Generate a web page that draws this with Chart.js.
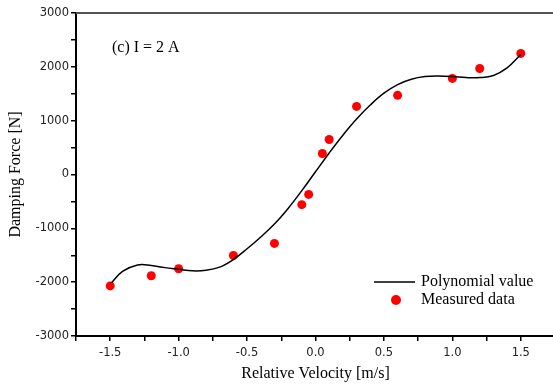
<!DOCTYPE html>
<html>
<head>
<meta charset="utf-8">
<script src="https://cdn.jsdelivr.net/npm/chart.js@4.4.1/dist/chart.umd.min.js"></script>
<style>
  html, body { margin: 0; padding: 0; background: #fff; overflow: hidden; }
  #wrap { width: 560px; height: 387px; }
</style>
</head>
<body>
<div id="wrap"><canvas id="c"></canvas></div>
<script>
// polynomial fit
const curveX = [-1.49, -1.41, -1.3, -1.2, -1.1, -1.0, -0.9, -0.8, -0.7, -0.6, -0.5, -0.4, -0.3, -0.2, -0.1, 0.0,
                0.1, 0.2, 0.3, 0.4, 0.5, 0.6, 0.7, 0.8, 0.9, 1.0, 1.1, 1.2, 1.3, 1.4, 1.5];
const curveY = [-2010, -1800, -1680, -1690, -1730, -1760, -1790, -1780, -1720, -1580, -1380, -1160, -920, -630, -300, 50,
                400, 730, 1030, 1290, 1510, 1670, 1770, 1820, 1830, 1820, 1800, 1800, 1840, 1980, 2230];

// measured points
const measuredX = [-1.5, -1.2, -1.0, -0.6, -0.3, -0.1, -0.05, 0.05, 0.1, 0.3, 0.6, 1.0, 1.2, 1.5];
const measuredY = [-2070, -1880, -1750, -1505, -1280, -560, -370, 390, 650, 1265, 1470, 1785, 1970, 2250];

const serif = '"Liberation Serif", "Times New Roman", serif';
const sans = '"DejaVu Sans", Verdana, sans-serif';

const extras = {
    id: 'extras',
    afterDraw(chart) {
        const { ctx, chartArea: a } = chart;
        ctx.save();
        // top frame line
        ctx.strokeStyle = '#555';
        ctx.lineWidth = 2;
        ctx.beginPath();
        ctx.moveTo(a.left, a.top);
        ctx.lineTo(a.right, a.top);
        ctx.stroke();

        ctx.fillStyle = '#000';
        ctx.font = '16px ' + serif;
        ctx.textBaseline = 'middle';
        ctx.fillText('(c) I = 2 A', 112, 48);

        // legend
        ctx.strokeStyle = '#000';
        ctx.lineWidth = 1.5;
        ctx.beginPath();
        ctx.moveTo(374, 282);
        ctx.lineTo(415, 282);
        ctx.stroke();
        ctx.fillText('Polynomial value', 421, 282);
        ctx.fillStyle = '#ff0000';
        ctx.beginPath();
        ctx.arc(396, 300, 5, 0, Math.PI * 2);
        ctx.fill();
        ctx.fillStyle = '#000';
        ctx.fillText('Measured data', 421, 300);
        ctx.restore();
    }
};

new Chart(document.getElementById('c').getContext('2d'), {
    type: 'scatter',
    data: {
        datasets: [{
            label: 'Polynomial value',
            data: curveX.map((x, i) => ({ x: x, y: curveY[i] })),
            showLine: true,
            borderColor: '#000',
            borderWidth: 1.5,
            pointRadius: 0,
            tension: 0.4,
            fill: false
        }, {
            label: 'Measured data',
            data: measuredX.map((x, i) => ({ x: x, y: measuredY[i] })),
            backgroundColor: '#ff0000',
            borderColor: '#ff0000',
            pointRadius: 4.5,
            pointBorderWidth: 0
        }]
    },
    options: {
        responsive: true,
        maintainAspectRatio: false,
        animation: false,
        layout: { padding: { top: 13, left: 0, right: 0, bottom: 0 } },
        plugins: {
            legend: { display: false },
            tooltip: { enabled: false }
        },
        scales: {
            x: {
                type: 'linear',
                min: -1.75,
                max: 1.75,
                afterFit: s => { s.height = 51; },
                border: { color: '#000', width: 2 },
                grid: { drawOnChartArea: false, drawTicks: true, tickLength: 5, color: '#000', lineWidth: 1.5 },
                ticks: {
                    stepSize: 0.25,
                    padding: 5,
                    color: '#222',
                    font: { family: sans, size: 11.5 },
                    maxRotation: 0,
                    autoSkip: false,
                    callback: v => Math.abs(v * 2 - Math.round(v * 2)) < 1e-9 ? (Math.abs(v) < 1e-9 ? '0.0' : v.toFixed(1)) : ''
                },
                title: {
                    display: true,
                    text: 'Relative Velocity [m/s]',
                    font: { family: serif, size: 16 },
                    color: '#000',
                    padding: { top: 0, bottom: 4 }
                }
            },
            y: {
                min: -3000,
                max: 3000,
                afterFit: s => { s.width = 76; },
                border: { color: '#000', width: 2 },
                grid: { drawOnChartArea: false, drawTicks: true, tickLength: 5, color: '#000', lineWidth: 1.5 },
                ticks: {
                    stepSize: 500,
                    padding: 2,
                    color: '#222',
                    font: { family: sans, size: 11.5 },
                    autoSkip: false,
                    callback: v => v % 1000 === 0 ? String(v) : ''
                },
                title: {
                    display: true,
                    text: 'Damping Force [N]',
                    font: { family: serif, size: 16 },
                    color: '#000',
                    padding: { top: 6, bottom: 0 }
                }
            }
        }
    },
    plugins: [extras]
});
</script>
</body>
</html>
